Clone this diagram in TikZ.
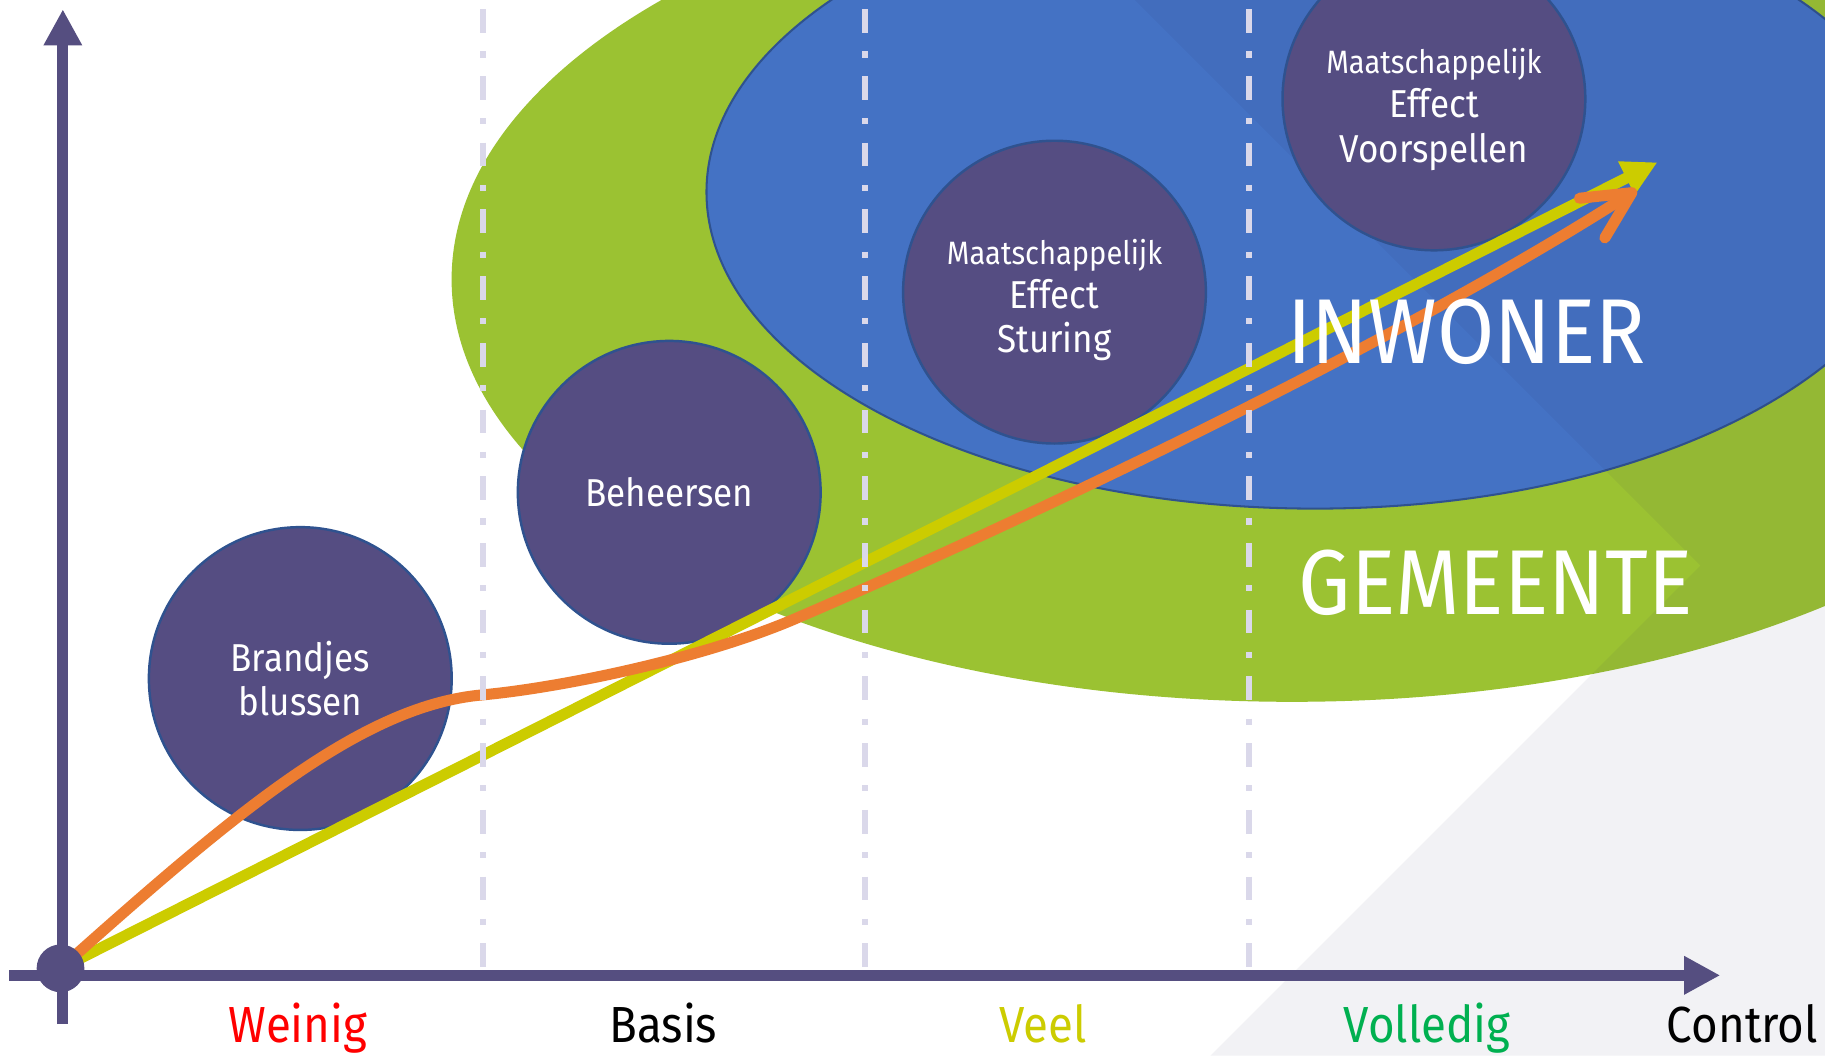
\documentclass[tikz,border=0pt]{standalone}
\usepackage{fontspec}
\setmainfont{Fira Sans}[FakeStretch=0.9]
\usetikzlibrary{arrows.meta}

\definecolor{axispurple}{RGB}{85,78,128}
\definecolor{bubblefill}{RGB}{85,77,130}
\definecolor{bubbleline}{RGB}{47,82,143}
\definecolor{gemgreen}{RGB}{155,194,50}
\definecolor{inwblue}{RGB}{68,114,196}
\definecolor{dashgrey}{RGB}{218,216,234}
\definecolor{shadeblue}{RGB}{40,40,90}
\definecolor{curveorange}{RGB}{237,125,49}
\definecolor{lineyellow}{RGB}{204,204,0}
\definecolor{labelgreen}{RGB}{0,176,80}

\tikzset{
  axisline/.style={axispurple, line width=2.7pt, -{Triangle[length=8.8pt,width=8.8pt]}},
  bubble/.style={circle, fill=bubblefill, draw=bubbleline, line width=0.6pt, minimum size=2.6cm, inner sep=0pt, text=white, align=center, font=\fontsize{9.5}{10.8}\selectfont},
  bubbletext/.style={text=white, align=center, inner sep=0pt, font=\fontsize{9.5}{10.8}\selectfont},
  gridline/.style={dashgrey, line width=1.4pt, dash pattern=on 5.8pt off 4.5pt on 1.5pt off 4.5pt},
  bigword/.style={text=white, font=\fontsize{22.5}{24}\selectfont, inner sep=0pt, anchor=base},
  axislabel/.style={font=\fontsize{12.4}{14}\selectfont, inner sep=0pt, anchor=base},
}

\begin{document}
\begin{tikzpicture}[x=0.01cm,y=-0.01cm]

\useasboundingbox (0,0) rectangle (1568,907);
\fill[white] (0,0) rectangle (1568,907);

\fill[gemgreen] (1110,240) ellipse (722 and 363);
\filldraw[fill=inwblue, draw=bubbleline, line width=0.5pt] (1130,165) ellipse (523 and 272);

\fill[shadeblue, opacity=0.06] (975,0) -- (1461,486) -- (1040,907) -- (1568,907) -- (1568,0) -- cycle;

\node[bubble] (brand) at (258,583) {Brandjes\\blussen};
\node[bubble] (beheer) at (575,423) {Beheersen};
\node[bubble] (sturing) at (906,251) {};
\node[bubble] (voorspel) at (1232,85) {};

\node[bubbletext] (sturingtext) at (906,258) {{\fontsize{7.9}{10.8}\selectfont Maatschappelijk}\\Effect\\Sturing};
\node[bubbletext] (voorspeltext) at (1232,94) {{\fontsize{7.9}{10.8}\selectfont Maatschappelijk}\\Effect\\Voorspellen};

\coordinate (xfrom) at (8,838);
\coordinate (xto) at (1478,838);
\coordinate (yfrom) at (54,880);
\coordinate (yto) at (54,8);
\draw[axisline] (xfrom) -- (xto);
\draw[axisline] (yfrom) -- (yto);

\coordinate (o) at (52,832);
\coordinate (ytip) at (1424,139.5);
\coordinate (otip) at (1406,163);

\draw[lineyellow, line width=2.7pt, -{Triangle[length=8.5pt,width=8.5pt]}] (o) -- (ytip);
\draw[curveorange, line width=2.7pt, -{Straight Barb[length=11.5pt,width=11.5pt,round]}] (o) .. controls (200,700) and (310,606) .. (415,597) .. controls (480,591) and (605,566) .. (687,530) .. controls (880,447) and (1200,295) .. (otip);

\foreach \gx in {415,743,1073}
  \draw[gridline] (\gx,8) -- (\gx,833);

\node[circle, fill=axispurple, minimum size=0.41cm, inner sep=0pt] (origin) at (o) {};

\node[bigword] (inwoner) at (1260,312) {INWONER};
\node[bigword] (gemeente) at (1285,528) {GEMEENTE};

\node[axislabel, text=red] (weinig) at (256,896) {Weinig};
\node[axislabel, text=black] (basis) at (570,896) {Basis};
\node[axislabel, text=lineyellow] (veel) at (896,896) {Veel};
\node[axislabel, text=labelgreen] (volledig) at (1226,896) {Volledig};
\node[axislabel, text=black] (control) at (1497,896) {Control};

\end{tikzpicture}
\end{document}
